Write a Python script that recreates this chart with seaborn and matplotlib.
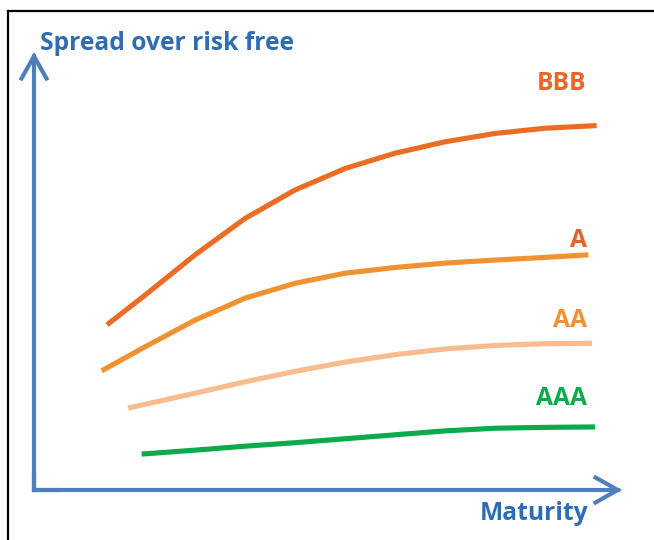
import matplotlib
matplotlib.use("Agg")
import matplotlib.pyplot as plt
from matplotlib.lines import Line2D
import pandas as pd
import seaborn as sns

# Credit spread curves by rating (maturity and spread in arbitrary units)
bbb_maturity = [1.24, 1.89, 2.74, 3.59, 4.44, 5.29, 6.14, 6.99, 7.84, 8.69, 9.57]
bbb_spread = [3.77, 4.45, 5.37, 6.20, 6.85, 7.34, 7.69, 7.95, 8.14, 8.26, 8.32]

a_maturity = [1.15, 1.89, 2.74, 3.59, 4.44, 5.29, 6.14, 6.99, 7.84, 8.69, 9.43]
a_spread = [2.72, 3.27, 3.88, 4.38, 4.72, 4.95, 5.08, 5.18, 5.25, 5.31, 5.37]

aa_maturity = [1.60, 2.74, 3.59, 4.44, 5.29, 6.14, 6.99, 7.84, 8.69, 9.49]
aa_spread = [1.87, 2.21, 2.47, 2.71, 2.92, 3.09, 3.22, 3.30, 3.34, 3.35]

aaa_maturity = [1.83, 2.74, 3.59, 4.44, 5.29, 6.14, 6.99, 7.84, 8.69, 9.54]
aaa_spread = [0.82, 0.91, 1.00, 1.08, 1.17, 1.26, 1.35, 1.41, 1.43, 1.44]

ratings = ["BBB", "A", "AA", "AAA"]
line_colors = {"BBB": "#EA6C25", "A": "#F09232", "AA": "#F8BC8E", "AAA": "#0BAA4B"}
label_colors = {"BBB": "#E8682A", "A": "#E5612A", "AA": "#F09232", "AAA": "#0BAA4B"}
label_y = {"BBB": 9.13, "A": 5.55, "AA": 3.72, "AAA": 1.94}

axis_blue = "#4F7FBA"
text_blue = "#2F6DB3"

frames = []
for name, xs, ys in [("BBB", bbb_maturity, bbb_spread),
                     ("A", a_maturity, a_spread),
                     ("AA", aa_maturity, aa_spread),
                     ("AAA", aaa_maturity, aaa_spread)]:
    frames.append(pd.DataFrame({"Maturity": xs, "Spread": ys, "Rating": name}))
df = pd.concat(frames, ignore_index=True)

sns.set_style("white")
plt.rcParams["font.family"] = ["Open Sans", "DejaVu Sans"]

fig = plt.figure(figsize=(6.54, 5.40), dpi=100)
ax = fig.add_axes([34 / 654, 50 / 540, 588 / 654, 438 / 540])
ax.set_xlim(0, 10)
ax.set_ylim(0, 10)

sns.lineplot(data=df, x="Maturity", y="Spread", hue="Rating", hue_order=ratings,
             palette=line_colors, linewidth=3.7, sort=True, legend=False, ax=ax,
             solid_capstyle="butt", solid_joinstyle="round")

for s in ax.spines.values():
    s.set_visible(False)
ax.set_xticks([])
ax.set_yticks([])
ax.set_xlabel("")
ax.set_ylabel("")

# Axis arrows
arrow_kw = dict(arrowstyle="->,head_length=0.8,head_width=0.45", lw=3.0,
                color=axis_blue, mutation_scale=20, shrinkA=0, shrinkB=0,
                joinstyle="miter", capstyle="projecting")
ax.annotate("", xy=(10, 0), xytext=(0, 0), arrowprops=arrow_kw, annotation_clip=False)
ax.annotate("", xy=(0, 10), xytext=(0, 0), arrowprops=arrow_kw, annotation_clip=False)
ax.plot([0, 0, 0.4], [0.4, 0, 0], color=axis_blue, lw=3.0, solid_joinstyle="miter",
        solid_capstyle="butt", clip_on=False)

# Rating labels
fs = 17.7
for r in ratings:
    ax.text(9.40, label_y[r], r, color=label_colors[r], fontsize=fs, fontweight="bold",
            ha="right", va="baseline", clip_on=False)

ax.text(0.10, 10.05, "Spread over risk free", color=text_blue, fontsize=fs,
        fontweight="bold", ha="left", va="baseline", clip_on=False)
ax.text(9.42, -0.685, "Maturity", color=text_blue, fontsize=fs,
        fontweight="bold", ha="right", va="baseline", clip_on=False)

# Outer frame (top and left edges)
fig.add_artist(Line2D([7.5 / 654, 7.5 / 654], [0, 1 - 10.5 / 540], color="black",
                      lw=1.6, transform=fig.transFigure, solid_capstyle="projecting"))
fig.add_artist(Line2D([7.5 / 654, 1], [1 - 10.5 / 540, 1 - 10.5 / 540], color="black",
                      lw=1.6, transform=fig.transFigure, solid_capstyle="projecting"))

fig.savefig("out.png", dpi=100)
